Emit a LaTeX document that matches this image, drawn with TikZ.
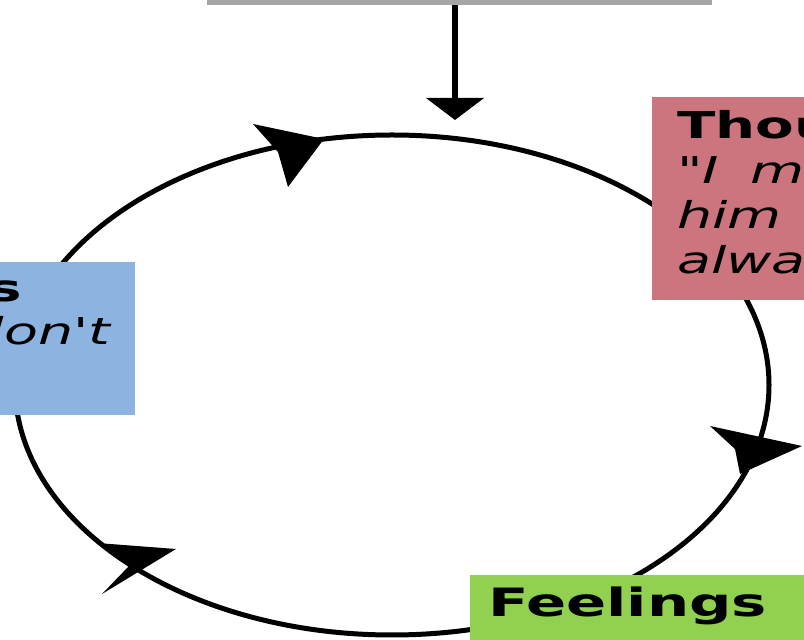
\documentclass[tikz,border=0pt]{standalone}
\usepackage{fontspec}
\usepackage{tikz}
\usetikzlibrary{arrows.meta}
\newfontfamily\verdfont[FakeStretch=1.5,
  ItalicFont={DejaVu Sans Oblique},ItalicFeatures={FakeStretch=1.5},
  BoldFeatures={FakeStretch=1.52}]{DejaVu Sans}
\definecolor{thoughtpink}{RGB}{204,117,127}
\definecolor{actionblue}{RGB}{141,180,224}
\definecolor{feelgreen}{RGB}{146,208,80}
\definecolor{triggergrey}{RGB}{166,166,166}

\begin{document}
\begin{tikzpicture}[x=0.5pt,y=-0.5pt,>={Triangle[width=28.5pt,length=11pt]},
  cycbox/.style={inner sep=0pt,outer sep=0pt,draw=none},
  cyctext/.style={inner sep=0pt,outer sep=0pt,align=left,
    font={\verdfont\fontsize{18.5}{22.5}\selectfont}}]
  \useasboundingbox (0,0) rectangle (804,640);
  \fill[white] (0,0) rectangle (804,640);
  \clip (0,0) rectangle (804,640);

  % the cycle
  \draw[line width=2.5pt] (392,385) ellipse [x radius=377, y radius=250];
  \fill (253,124) -- (324,139) -- (288,187) -- (278,152) -- cycle;
  \fill (710,426) -- (802,446) -- (740,474) -- (735,449) -- cycle;
  \fill (97,543) -- (176,549) -- (102,594) -- (130,565) -- cycle;

  % boxes
  \node[cycbox,fill=triggergrey,anchor=south west,minimum width=252.5pt,minimum height=40pt] (trigger) at (207,5) {};
  \node[cycbox,fill=thoughtpink,anchor=north west,minimum width=124pt,minimum height=101.5pt] (thoughts) at (652,97) {};
  \node[cycbox,fill=actionblue,anchor=north east,minimum width=100pt,minimum height=76.5pt] (actions) at (135,262) {};
  \node[cycbox,fill=feelgreen,anchor=north west,minimum width=200pt,minimum height=60pt] (feelings) at (470,575) {};

  \node[cyctext,anchor=base west] (thoughtstext) at (677,274)
    {\textbf{Thou}\\\textit{"I \kern7pt m}\\\textit{him}\\\textit{alwa}};
  \node[cyctext,anchor=base east] (actionstop) at (22,302) {\textbf{s}};
  \node[cyctext,anchor=base east] (actionsbot) at (112,345) {\textit{don't}};
  \node[cyctext,anchor=base west,font={\verdfont\fontsize{19.5}{22.5}\selectfont}] (feelingstext) at (488,617) {\textbf{Feelings}};

  \coordinate (cycletop) at (455,120);
  \draw[->,line width=3pt] (trigger.south -| cycletop) -- (cycletop);
\end{tikzpicture}
\end{document}
